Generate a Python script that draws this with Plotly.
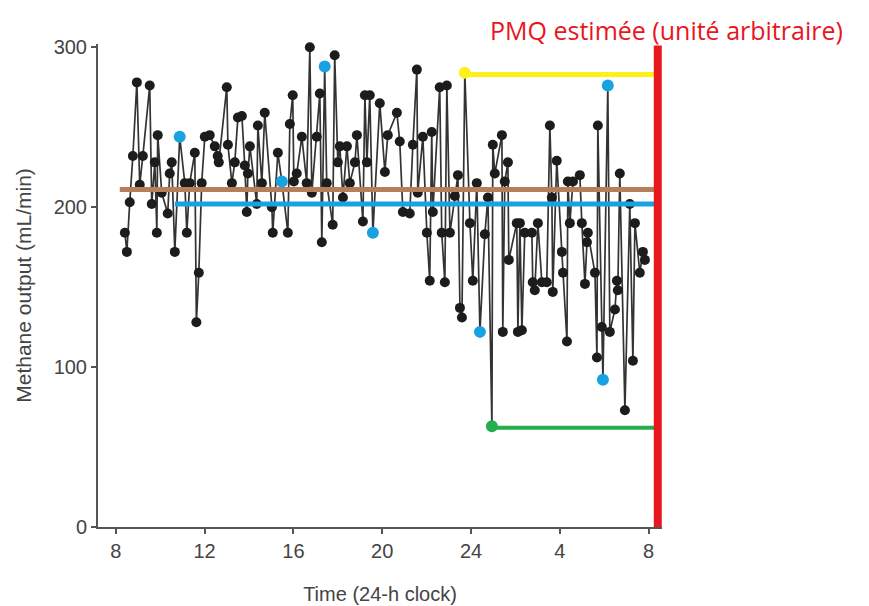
import plotly.graph_objects as go

# Time in hours since midnight of day 1 (8 = 08:00, 32 = 08:00 next day)
time_h = [8.41, 8.50, 8.63, 8.77, 8.95, 9.08, 9.22, 9.53, 9.62, 9.76, 9.85, 9.89,
          10.07, 10.34, 10.43, 10.52, 10.66, 10.88, 11.11, 11.20, 11.33, 11.56, 11.63,
          11.74, 11.87, 12.01, 12.23, 12.46, 12.59, 12.64, 13.00, 13.05, 13.23, 13.36,
          13.50, 13.68, 13.81, 13.90, 13.95, 14.04, 14.35, 14.40, 14.58, 14.71, 15.03,
          15.07, 15.30, 15.48, 15.75, 15.84, 15.97, 16.02, 16.15, 16.38, 16.60, 16.74,
          16.83, 17.05, 17.19, 17.28, 17.41, 17.50, 17.77, 17.86, 18.00, 18.09, 18.23,
          18.41, 18.54, 18.77, 18.86, 19.13, 19.22, 19.31, 19.44, 19.58, 19.89, 20.12,
          20.25, 20.66, 20.79, 20.93, 21.24, 21.38, 21.56, 21.60, 21.83, 22.01, 22.14,
          22.23, 22.28, 22.59, 22.68, 22.82, 22.91, 23.05, 23.27, 23.41, 23.50, 23.59,
          23.72, 23.95, 24.08, 24.26, 24.40, 24.62, 24.76, 24.94, 24.98, 25.07, 25.39,
          25.43, 25.52, 25.66, 25.70, 26.06, 26.11, 26.20, 26.29, 26.42, 26.74, 26.78,
          26.87, 27.01, 27.19, 27.41, 27.55, 27.64, 27.68, 27.86, 28.09, 28.14, 28.32,
          28.36, 28.45, 28.59, 28.90, 28.99, 29.13, 29.22, 29.26, 29.58, 29.67, 29.71,
          29.89, 29.94, 30.16, 30.25, 30.48, 30.57, 30.61, 30.70, 30.93, 31.15, 31.29,
          31.38, 31.60, 31.74, 31.83]
methane = [184, 172, 203, 232, 278, 214, 232, 276, 202, 228, 184, 245,
           209, 196, 221, 228, 172, 244, 215, 184, 215, 234, 128,
           159, 215, 244, 245, 238, 232, 228, 275, 239, 215, 228,
           256, 257, 226, 197, 221, 238, 202, 251, 215, 259, 200,
           184, 234, 216, 184, 252, 270, 216, 221, 244, 215, 300,
           209, 244, 271, 178, 288, 215, 189, 295, 228, 238, 206,
           238, 215, 228, 245, 191, 270, 228, 270, 184, 265, 222,
           245, 259, 241, 197, 196, 239, 286, 209, 244, 184, 154,
           247, 197, 275, 184, 153, 276, 184, 207, 220, 137, 131,
           284, 190, 154, 215, 122, 183, 206, 63, 239, 221, 245,
           122, 216, 228, 167, 190, 122, 190, 123, 184, 184, 153,
           148, 190, 153, 153, 251, 206, 147, 229, 172, 159, 116,
           216, 190, 216, 220, 190, 152, 178, 184, 159, 106, 251,
           125, 92, 276, 122, 136, 154, 148, 221, 73, 202, 104,
           190, 159, 172, 167]

# Highlighted points
blue_t = [10.88, 15.48, 17.41, 19.58, 24.40, 29.94, 30.16]
blue_v = [244, 216, 288, 184, 122, 92, 276]
yellow_t = [23.72]
yellow_v = [284]
green_t = [24.94]
green_v = [63]

# Horizontal reference levels: (start time, end time, level)
brown_line = (8.18, 32.28, 211)
blue_line = (10.66, 32.28, 202)
yellow_line = (23.72, 32.28, 283)
green_line = (24.94, 32.28, 62)
pmq_time = 32.41
pmq_top = 301

tick_vals = [8, 12, 16, 20, 24, 28, 32]
tick_text = ["8", "12", "16", "20", "24", "4", "8"]

BLUE = "#18A3E0"
fig = go.Figure()

fig.add_trace(go.Scatter(
    x=time_h, y=methane, mode="lines+markers",
    line=dict(color="#333333", width=1.7),
    marker=dict(color="#1c1c1c", size=10),
    showlegend=False, cliponaxis=False))

for (x0, x1, lv), col, w in [(brown_line, "#B67E5A", 5), (blue_line, BLUE, 5),
                             (yellow_line, "#FFF01A", 5), (green_line, "#26AE4E", 4)]:
    fig.add_trace(go.Scatter(x=[x0, x1], y=[lv, lv], mode="lines",
                             line=dict(color=col, width=w), showlegend=False,
                             cliponaxis=False))

fig.add_trace(go.Scatter(x=blue_t, y=blue_v, mode="markers",
                         marker=dict(color=BLUE, size=12), showlegend=False))
fig.add_trace(go.Scatter(x=yellow_t, y=yellow_v, mode="markers",
                         marker=dict(color="#FFF01A", size=12), showlegend=False,
                         cliponaxis=False))
fig.add_trace(go.Scatter(x=green_t, y=green_v, mode="markers",
                         marker=dict(color="#26AE4E", size=12), showlegend=False))

fig.add_trace(go.Scatter(x=[pmq_time, pmq_time], y=[-2, pmq_top], mode="lines",
                         line=dict(color="#E8161E", width=8), showlegend=False,
                         cliponaxis=False))

fig.add_annotation(x=0.692, y=1.028, xref="paper", yref="paper",
                   xanchor="left", yanchor="middle",
                   text="PMQ estimée (unité arbitraire)", showarrow=False,
                   font=dict(family="Open Sans", size=25, color="#E8161E"))

fig.update_layout(
    width=869, height=606,
    margin=dict(l=98, r=207, t=44, b=79),
    plot_bgcolor="white", paper_bgcolor="white",
    font=dict(family="Liberation Sans", color="#444444"),
)
fig.update_xaxes(range=[7.2, 32.6], tickvals=tick_vals, ticktext=tick_text,
                 automargin=False,
                 showgrid=False, zeroline=False, showline=True, linecolor="#555555",
                 linewidth=2, ticks="outside", ticklen=5, tickwidth=1.5,
                 tickcolor="#555555", tickfont=dict(size=20, color="#444444"),
                 title=dict(text="Time (24-h clock)", font=dict(size=20, color="#444444"),
                            standoff=26))
fig.update_yaxes(range=[0, 302], tickvals=[0, 100, 200, 300],
                 automargin=False,
                 showgrid=False, zeroline=False, showline=True, linecolor="#555555",
                 linewidth=2, ticks="outside", ticklen=5, tickwidth=1.5,
                 tickcolor="#555555", tickfont=dict(size=20, color="#444444"),
                 title=dict(text="Methane output (mL/min)", font=dict(size=21, color="#444444"),
                            standoff=16))

fig.write_html("out.html")
